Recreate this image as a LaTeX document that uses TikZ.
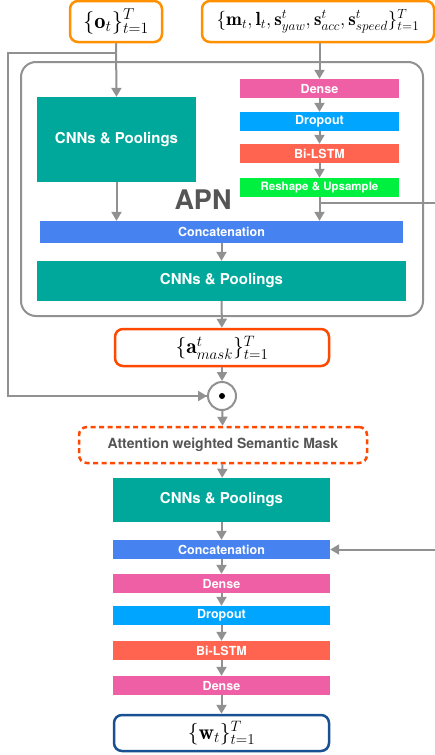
\RequirePackage{fix-cm}
\documentclass[tikz,border=0pt]{standalone}
\usepackage{fontspec}
\usetikzlibrary{arrows.meta}
\newfontfamily\hv{TeX Gyre Heros}
\definecolor{tealbox}{RGB}{0,168,155}
\definecolor{pinkbox}{RGB}{238,95,165}
\definecolor{skybox}{RGB}{0,165,255}
\definecolor{redbox}{RGB}{255,100,80}
\definecolor{greenbox}{RGB}{0,240,64}
\definecolor{bluebox}{RGB}{70,130,240}
\definecolor{inorange}{RGB}{255,145,0}
\definecolor{maskred}{RGB}{255,72,0}
\definecolor{outblue}{RGB}{25,80,145}
\definecolor{linegray}{RGB}{145,145,145}
\definecolor{labelgray}{RGB}{85,85,85}
\begin{document}
\begin{tikzpicture}[x=1pt,y=-1pt,
  bar/.style={draw=none, inner sep=0pt, text=white,
    font=\hv\bfseries\fontsize{12.5}{14}\selectfont,
    minimum width=159pt, minimum height=19pt},
  bigbox/.style={bar, fill=tealbox, font=\hv\bfseries\fontsize{15}{18}\selectfont},
  iobox/.style={draw, line width=2.5pt, rounded corners=8pt, fill=white,
    inner sep=0pt, font=\fontsize{21.5}{26}\selectfont},
  link/.style={draw=linegray, line width=2pt, -{Triangle[width=10pt,length=9pt]}},
  wire/.style={draw=linegray, line width=2pt}
]
\useasboundingbox (0,0) rectangle (435,755);

% inputs
\node[iobox, draw=inorange, minimum width=92pt, minimum height=41pt,
  font=\fontsize{22.5}{27}\selectfont] (obs) at (116,21.5)
  {$\{\mathbf{o}_t\}_{t=1}^{T}$};
\node[iobox, draw=inorange, minimum width=232pt, minimum height=41pt,
  font=\fontsize{19}{23}\selectfont] (meas) at (318,21.5)
  {$\{\mathbf{m}_t,\mathbf{l}_t,\mathbf{s}^t_{yaw},\mathbf{s}^t_{acc},\mathbf{s}^t_{speed}\}_{t=1}^{T}$};

% attention prediction network frame
\node[draw=linegray, line width=2pt, rounded corners=15pt, inner sep=0pt,
  minimum width=402pt, minimum height=254pt] (apn) at (222,189) {};
\node[text=labelgray, font=\hv\bfseries\fontsize{27}{30}\selectfont] (apnlabel) at (203,200) {APN};

% APN layers
\node[bigbox, minimum width=159pt, minimum height=85pt] (cnnA) at (116.5,139.5) {CNNs \& Poolings};
\node[bar, fill=pinkbox] (denseA) at (319.5,88.5) {Dense};
\node[bar, fill=skybox] (dropA) at (319.5,121.5) {Dropout};
\node[bar, fill=redbox] (lstmA) at (319.5,153.5) {Bi-LSTM};
\node[bar, fill=greenbox, font=\hv\bfseries\fontsize{11.5}{14}\selectfont] (reshA) at (319.5,187.5) {Reshape \& Upsample};
\node[bar, fill=bluebox, minimum width=363pt, minimum height=22pt] (catA) at (221.5,232) {Concatenation};
\node[bigbox, minimum width=369pt, minimum height=40pt] (cnnB) at (221.5,281) {CNNs \& Poolings};

% mask and product
\node[iobox, draw=maskred, minimum width=214pt, minimum height=37pt] (mask) at (222,347.5)
  {$\{\mathbf{a}^t_{mask}\}_{t=1}^{T}$};
\node[circle, draw=linegray, line width=2pt, minimum size=28pt, inner sep=0pt] (prod) at (222,396) {};
\fill (prod.center) circle (3pt);
\node[draw=maskred, line width=2.5pt, dash pattern=on 5pt off 3.5pt, rounded corners=8pt,
  minimum width=288pt, minimum height=36pt, inner sep=0pt, text=labelgray,
  font=\hv\bfseries\fontsize{14}{16}\selectfont] (attn) at (223,445) {Attention weighted Semantic Mask};

% lower network
\node[bigbox, minimum width=217pt, minimum height=44pt] (cnnC) at (221.5,500) {CNNs \& Poolings};
\node[bar, fill=bluebox, minimum width=217pt] (catB) at (221.5,549.5) {Concatenation};
\node[bar, fill=pinkbox, minimum width=217pt] (denseB) at (221.5,583.5) {Dense};
\node[bar, fill=skybox, minimum width=217pt] (dropB) at (221.5,615.5) {Dropout};
\node[bar, fill=redbox, minimum width=217pt] (lstmB) at (221.5,650.5) {Bi-LSTM};
\node[bar, fill=pinkbox, minimum width=217pt] (denseC) at (221.5,685.5) {Dense};
\node[iobox, draw=outblue, minimum width=215pt, minimum height=36pt] (wout) at (221.5,733)
  {$\{\mathbf{w}_t\}_{t=1}^{T}$};

% free ends at the right border
\coordinate (exitR) at (435,203);
\coordinate (enterR) at (435,549.5);
\coordinate (leftX) at (8,53);

% connectors
\draw[link] (obs.south) -- (cnnA.north);
\draw[wire] (obs.south |- leftX) -- (leftX) |- (prod.west);
\draw[link] (leftX |- prod.west) -- (prod.west);
\draw[link] (denseA.north |- meas.south) -- (denseA.north);
\draw[link] (denseA) -- (dropA);
\draw[link] (dropA) -- (lstmA);
\draw[link] (lstmA) -- (reshA);
\draw[link] (reshA.south) -- (reshA.south |- catA.north);
\draw[wire] (reshA.south |- exitR) -- (exitR);
\draw[link] (cnnA.south) -- (cnnA.south |- catA.north);
\draw[link] (catA) -- (cnnB);
\draw[link] (cnnB) -- (mask);
\draw[link] (mask) -- (prod);
\draw[link] (prod) -- (attn);
\draw[link] (attn) -- (cnnC);
\draw[link] (cnnC) -- (catB);
\draw[link] (enterR) -- (catB.east);
\draw[link] (catB) -- (denseB);
\draw[link] (denseB) -- (dropB);
\draw[link] (dropB) -- (lstmB);
\draw[link] (lstmB) -- (denseC);
\draw[link] (denseC) -- (wout);
\end{tikzpicture}
\end{document}
